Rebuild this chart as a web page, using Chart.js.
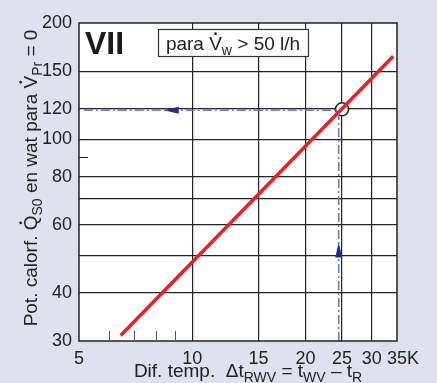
<!DOCTYPE html>
<html>
<head>
<meta charset="utf-8">
<script src="https://cdn.jsdelivr.net/npm/chart.js@4"></script>
<style>
  html, body { margin: 0; padding: 0; background: #dfe1ef; }
  #wrap { width: 437px; height: 383px; }
</style>
</head>
<body>
<div id="wrap"><canvas id="chart" width="437" height="383"></canvas></div>
<script>
// axis ticks (log-log)
const xTicks = [5, 10, 15, 20, 25, 30, 35];
const xGrid = [10, 15, 20, 25, 30];
const xMinor = [6, 7, 8, 9];
const yTicks = [30, 40, 50, 60, 70, 80, 90, 100, 120, 150, 200];
const yLabels = ['30', '40', '', '60', '', '80', '', '100', '120', '150', '200'];
const yGrid = [40, 50, 60, 70, 80, 100, 120, 150];
const yMinor = [90];

// characteristic line (red)
const lineX = [6.45, 34.2];
const lineY = [31, 164];

// operating point and guide lines
const pointX = [25];
const pointY = [119.5];
const guideHX = [5.15, 24.6];
const guideHY = [118.8, 118.8];
const guideVX = [24.5, 24.5];
const guideVY = [30, 117];

// arrow heads on guide lines
const arrowX = [8.4, 24.5];
const arrowY = [118.8, 54];
const arrowDir = ['left', 'up'];

const FONT = '"Liberation Sans", Arial, sans-serif';

// draw text with subscripts and dots above letters
function richText(ctx, parts, size) {
  let w = 0;
  parts.forEach(p => {
    ctx.font = (p.sub ? Math.round(size * 0.72) : size) + 'px ' + FONT;
    p.w = ctx.measureText(p.t).width;
    w += p.w;
  });
  return w;
}
function drawRich(ctx, parts, x, y, size) {
  parts.forEach(p => {
    const fs = p.sub ? Math.round(size * 0.72) : size;
    ctx.font = fs + 'px ' + FONT;
    ctx.fillText(p.t, x, y + (p.sub ? size * 0.25 : 0));
    if (p.dot) {
      ctx.beginPath();
      ctx.arc(x + p.w / 2, y - size * 0.86, size * 0.07, 0, Math.PI * 2);
      ctx.fill();
    }
    x += p.w;
  });
}

const decor = {
  id: 'decor',
  beforeDraw(chart) {
    const { ctx, chartArea: a } = chart;
    ctx.save();
    ctx.fillStyle = '#dfe1ef';
    ctx.fillRect(0, 0, chart.width, chart.height);
    ctx.fillStyle = '#ffffff';
    ctx.fillRect(a.left, a.top, a.right - a.left, a.bottom - a.top);
    ctx.restore();
  },
  afterDraw(chart) {
    const { ctx, chartArea: a, scales: { x, y } } = chart;
    ctx.save();
    // frame
    ctx.strokeStyle = '#222';
    ctx.lineWidth = 1.5;
    ctx.strokeRect(a.left, a.top, a.right - a.left, a.bottom - a.top);
    // minor ticks
    ctx.lineWidth = 1;
    ctx.strokeStyle = '#555';
    xMinor.forEach(v => {
      const px = Math.round(x.getPixelForValue(v)) + 0.5;
      ctx.beginPath(); ctx.moveTo(px, a.bottom); ctx.lineTo(px, a.bottom - 10); ctx.stroke();
    });
    ctx.strokeStyle = '#222';
    yMinor.forEach(v => {
      const py = Math.round(y.getPixelForValue(v)) + 0.5;
      ctx.beginPath(); ctx.moveTo(a.left, py); ctx.lineTo(a.left + 9, py); ctx.stroke();
    });
    // arrow heads
    ctx.fillStyle = '#262b8c';
    arrowX.forEach((v, i) => {
      const px = x.getPixelForValue(v), py = y.getPixelForValue(arrowY[i]);
      ctx.beginPath();
      if (arrowDir[i] === 'left') {
        ctx.moveTo(px, py); ctx.lineTo(px + 15, py - 3.5); ctx.lineTo(px + 15, py + 3.5);
      } else {
        ctx.moveTo(px, py); ctx.lineTo(px - 3.5, py + 15); ctx.lineTo(px + 3.5, py + 15);
      }
      ctx.closePath(); ctx.fill();
    });
    // "K" unit after last x label
    ctx.fillStyle = '#222';
    ctx.font = '18px ' + FONT;
    ctx.textBaseline = 'middle';
    ctx.textAlign = 'left';
    const w35 = ctx.measureText('35').width;
    ctx.fillText('K', x.getPixelForValue(35) + w35 / 2, x.top + 7 + 18 * 1.2 / 2);
    // big "VII"
    ctx.textBaseline = 'alphabetic';
    ctx.font = 'bold 32px ' + FONT;
    ctx.fillStyle = '#1a1a1a';
    ctx.fillText('VII', a.left + 6, a.top + 31);
    // condition box
    ctx.fillStyle = '#fff';
    ctx.fillRect(158, 29, 150, 27);
    ctx.strokeStyle = '#333';
    ctx.lineWidth = 1.2;
    ctx.strokeRect(158.5, 29.5, 150, 27);
    ctx.fillStyle = '#222';
    const boxParts = [{ t: 'para ' }, { t: 'V', dot: true }, { t: 'w', sub: true }, { t: ' > 50 l/h' }];
    const bw = richText(ctx, boxParts, 19);
    drawRich(ctx, boxParts, 158 + (150 - bw) / 2, 50, 19);
    // x title
    const xParts = [{ t: 'Dif. temp.  \u0394t' }, { t: 'RWV', sub: true }, { t: ' = t' }, { t: 'WV', sub: true }, { t: ' \u2013 t' }, { t: 'R', sub: true }];
    const xw = richText(ctx, xParts, 19);
    drawRich(ctx, xParts, 248 - xw / 2, 377, 19);
    // y title
    ctx.translate(37, 178);
    ctx.rotate(-Math.PI / 2);
    const yParts = [{ t: 'Pot. calorf. ' }, { t: 'Q', dot: true }, { t: 'S0', sub: true }, { t: ' en wat para ' }, { t: 'V', dot: true }, { t: 'Pr', sub: true }, { t: ' = 0' }];
    const yw = richText(ctx, yParts, 19);
    drawRich(ctx, yParts, -yw / 2, 0, 19);
    ctx.restore();
  }
};

new Chart(document.getElementById('chart'), {
  type: 'line',
  data: {
    datasets: [
      {
        data: guideHX.map((v, i) => ({ x: v, y: guideHY[i] })),
        borderColor: '#6d73c4',
        borderWidth: 1.5,
        borderDash: [9, 3, 2, 3],
        pointRadius: 0
      },
      {
        data: guideVX.map((v, i) => ({ x: v, y: guideVY[i] })),
        borderColor: '#6d73c4',
        borderWidth: 1.5,
        borderDash: [9, 3, 2, 3],
        pointRadius: 0
      },
      {
        data: lineX.map((v, i) => ({ x: v, y: lineY[i] })),
        borderColor: '#e8202a',
        borderWidth: 3.5,
        pointRadius: 0
      },
      {
        data: pointX.map((v, i) => ({ x: v, y: pointY[i] })),
        showLine: false,
        pointRadius: 6.5,
        pointBackgroundColor: '#ffffff',
        pointBorderColor: '#222',
        pointBorderWidth: 1.5
      }
    ]
  },
  plugins: [decor],
  options: {
    responsive: false,
    animation: false,
    layout: { padding: { top: 23, right: 40, left: 0, bottom: 0 } },
    plugins: { legend: { display: false }, tooltip: { enabled: false } },
    scales: {
      x: {
        type: 'logarithmic',
        min: 5,
        max: 35,
        afterBuildTicks: s => { s.ticks = xTicks.map(v => ({ value: v })); },
        afterFit: s => { s.height = 42; },
        ticks: {
          autoSkip: false,
          maxRotation: 0,
          padding: 7,
          color: '#222',
          font: { family: FONT, size: 18 },
          callback: v => String(v)
        },
        grid: {
          drawTicks: false,
          lineWidth: 1.2,
          color: c => xGrid.includes(c.tick && c.tick.value) ? '#222' : 'rgba(0,0,0,0)'
        },
        border: { display: false }
      },
      y: {
        type: 'logarithmic',
        min: 30,
        max: 200,
        afterBuildTicks: s => { s.ticks = yTicks.map(v => ({ value: v })); },
        afterFit: s => { s.width = 79; },
        ticks: {
          autoSkip: false,
          padding: 7,
          color: '#222',
          font: { family: FONT, size: 18 },
          callback: v => yLabels[yTicks.indexOf(v)]
        },
        grid: {
          drawTicks: false,
          lineWidth: 1.2,
          color: c => yGrid.includes(c.tick && c.tick.value) ? '#222' : 'rgba(0,0,0,0)'
        },
        border: { display: false }
      }
    }
  }
});
</script>
</body>
</html>
